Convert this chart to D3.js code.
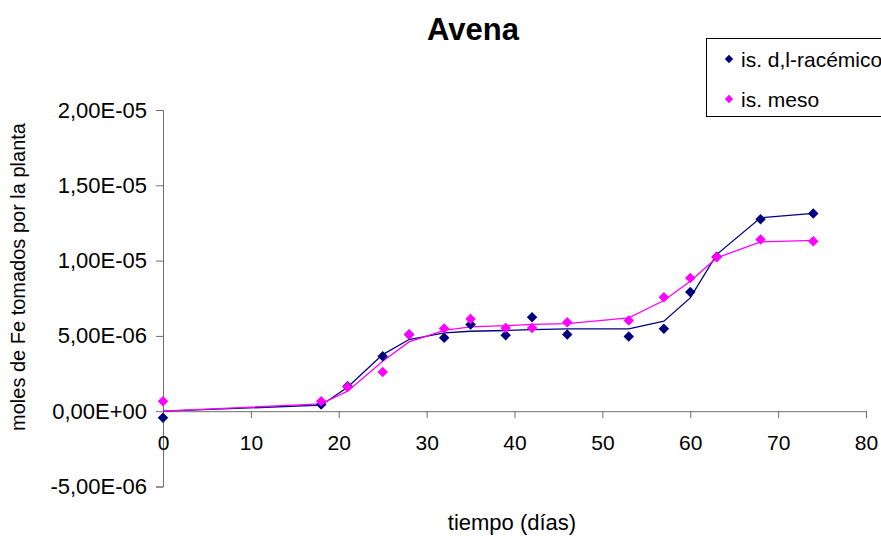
<!DOCTYPE html>
<html>
<head>
<meta charset="utf-8">
<script src="https://cdn.jsdelivr.net/npm/d3@7"></script>
<style>
  html, body { margin: 0; padding: 0; background: #fff; }
  svg { display: block; font-family: Arial, "Liberation Sans", sans-serif; }
</style>
</head>
<body>
<svg id="chart" width="881" height="536"></svg>
<script>
// Sampling days
const days = [0, 18, 21, 25, 28, 32, 35, 39, 42, 46, 53, 57, 60, 63, 68, 74];

// Measured Fe uptake (mol) – d,l-racemic isomer
const racemicoPts = [-4.4e-7, 4.4e-7, 1.66e-6, 3.65e-6, 5.1e-6, 4.87e-6, 5.76e-6, 5.05e-6, 6.24e-6, 5.09e-6, 4.96e-6, 5.47e-6, 7.92e-6, 1.025e-5, 1.275e-5, 1.313e-5];
// Fitted curve – d,l-racemic isomer
const racemicoFit = [0, 4.0e-7, 1.59e-6, 3.76e-6, 4.76e-6, 5.2e-6, 5.31e-6, 5.36e-6, 5.41e-6, 5.47e-6, 5.47e-6, 5.98e-6, 7.52e-6, 1.04e-5, 1.284e-5, 1.313e-5];

// Measured Fe uptake (mol) – meso isomer
const mesoPts = [6.6e-7, 6.6e-7, 1.61e-6, 2.61e-6, 5.09e-6, 5.49e-6, 6.13e-6, 5.53e-6, 5.53e-6, 5.91e-6, 6.02e-6, 7.57e-6, 8.85e-6, 1.023e-5, 1.14e-5, 1.129e-5];
// Fitted curve – meso isomer
const mesoFit = [0, 4.9e-7, 1.33e-6, 3.32e-6, 4.6e-6, 5.36e-6, 5.6e-6, 5.68e-6, 5.76e-6, 5.82e-6, 6.2e-6, 7.35e-6, 8.63e-6, 1.018e-5, 1.124e-5, 1.134e-5];

const seriesNames = ["is. d,l-racémico", "is. meso"];
const seriesColors = ["#000080", "#ff00ff"];

const xTicks = [0, 10, 20, 30, 40, 50, 60, 70, 80];
const yTicks = [-5e-6, 0, 5e-6, 1e-5, 1.5e-5, 2e-5];

const title = "Avena";
const xTitle = "tiempo (días)";
const yTitle = "moles de Fe tomados por la planta";

const svg = d3.select("#chart");

const x = d3.scaleLinear().domain([0, 80]).range([163, 866]);
const y = d3.scaleLinear().domain([-5e-6, 2e-5]).range([486.5, 110]);

// Spreadsheet-style scientific notation: 2,00E-05
function sci(v) {
  if (v === 0) return "0,00E+00";
  const exp = Math.floor(Math.log10(Math.abs(v)) + 1e-9);
  const mant = v / Math.pow(10, exp);
  const sign = exp < 0 ? "-" : "+";
  const e = String(Math.abs(exp)).padStart(2, "0");
  return mant.toFixed(2).replace(".", ",") + "E" + sign + e;
}

// Diamond marker
const diamond = {
  draw(ctx, size) {
    const r = Math.sqrt(size) / 2;
    ctx.moveTo(0, -r);
    ctx.lineTo(r, 0);
    ctx.lineTo(0, r);
    ctx.lineTo(-r, 0);
    ctx.closePath();
  }
};
const marker = d3.symbol().type(diamond).size(110);

const axisColor = "#6e6e6e";

// Y axis
const yAxis = svg.append("g")
  .attr("transform", `translate(${x(0)},0)`)
  .call(d3.axisLeft(y).tickValues(yTicks).tickFormat(sci).tickSize(7).tickPadding(9));
yAxis.select(".domain").attr("stroke", axisColor);
yAxis.selectAll(".tick line").attr("stroke", axisColor);
yAxis.selectAll("text").attr("font-size", 22).attr("fill", "#000")
  .attr("font-family", "Arial, 'Liberation Sans', sans-serif");

// X axis on the zero line
const xAxis = svg.append("g")
  .attr("transform", `translate(0,${y(0)})`)
  .call(d3.axisBottom(x).tickValues(xTicks).tickFormat(d3.format("d")).tickSize(7).tickSizeOuter(7).tickPadding(17));
xAxis.select(".domain").attr("stroke", axisColor);
xAxis.selectAll(".tick line").attr("stroke", axisColor);
xAxis.selectAll("text").attr("font-size", 21).attr("fill", "#000")
  .attr("font-family", "Arial, 'Liberation Sans', sans-serif");

// Fitted curves
const fits = [racemicoFit, mesoFit];
const line = d3.line().x((d, i) => x(days[i])).y(d => y(d));
fits.forEach((vals, k) => {
  svg.append("path")
    .datum(vals)
    .attr("fill", "none")
    .attr("stroke", seriesColors[k])
    .attr("stroke-width", 1.3)
    .attr("d", line);
});

// Measured points
const pts = [racemicoPts, mesoPts];
pts.forEach((vals, k) => {
  svg.append("g").selectAll("path")
    .data(vals)
    .join("path")
    .attr("transform", (d, i) => `translate(${x(days[i])},${y(d)})`)
    .attr("d", marker)
    .attr("fill", seriesColors[k]);
});

// Title
svg.append("text")
  .attr("x", 473).attr("y", 40)
  .attr("text-anchor", "middle")
  .attr("font-size", 31).attr("font-weight", "bold")
  .text(title);

// Axis titles
svg.append("text")
  .attr("x", 512).attr("y", 530)
  .attr("text-anchor", "middle")
  .attr("font-size", 22)
  .text(xTitle);

svg.append("text")
  .attr("transform", `translate(25,277) rotate(-90)`)
  .attr("text-anchor", "middle")
  .attr("font-size", 20)
  .text(yTitle);

// Legend
const legend = svg.append("g");
legend.append("rect")
  .attr("x", 706.5).attr("y", 38.5)
  .attr("width", 200).attr("height", 78)
  .attr("fill", "#fff").attr("stroke", "#000").attr("stroke-width", 1);
seriesNames.forEach((name, k) => {
  const cy = 59 + k * 40;
  legend.append("path")
    .attr("transform", `translate(729,${cy})`)
    .attr("d", d3.symbol().type(diamond).size(70))
    .attr("fill", seriesColors[k]);
  legend.append("text")
    .attr("x", 741).attr("y", cy + 8)
    .attr("font-size", 21)
    .text(name);
});
</script>
</body>
</html>
